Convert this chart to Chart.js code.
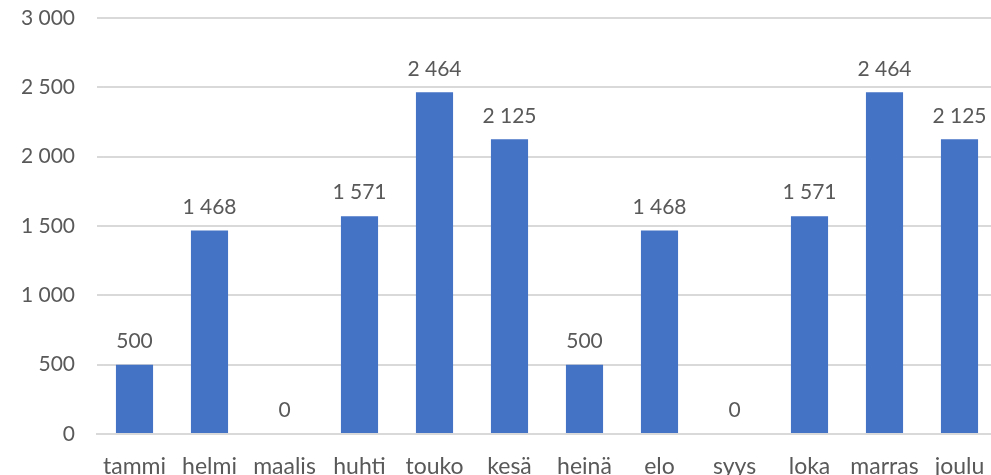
<!DOCTYPE html>
<html>
<head>
<meta charset="utf-8">
<script src="https://cdn.jsdelivr.net/npm/chart.js@4"></script>
<style>
  html, body { margin: 0; padding: 0; background: #fff; overflow: hidden; }
  #wrap { width: 997px; height: 475px; }
</style>
</head>
<body>
<div id="wrap"><canvas id="chart"></canvas></div>
<script>
const months = ["tammi", "helmi", "maalis", "huhti", "touko", "kesä", "heinä", "elo", "syys", "loka", "marras", "joulu"];
const values = [500, 1468, 0, 1571, 2464, 2125, 500, 1468, 0, 1571, 2464, 2125];
const yTicks = [0, 500, 1000, 1500, 2000, 2500, 3000];

const textColor = "#595959";
const fontFamily = "Lato, 'Open Sans', sans-serif";

// thousands with a space, like the Finnish Excel chart
const fmt = (v) => String(v).replace(/\B(?=(\d{3})+(?!\d))/g, " ");

const valueLabels = {
  id: "valueLabels",
  afterDatasetsDraw(chart) {
    const ctx = chart.ctx;
    const meta = chart.getDatasetMeta(0);
    ctx.save();
    ctx.font = "21px " + fontFamily;
    ctx.fillStyle = textColor;
    ctx.textAlign = "center";
    ctx.textBaseline = "bottom";
    meta.data.forEach((bar, i) => {
      ctx.fillText(fmt(values[i]), bar.x, bar.y - 13);
    });
    ctx.restore();
  }
};

new Chart(document.getElementById("chart"), {
  type: "bar",
  data: {
    labels: months,
    datasets: [{
      data: values,
      backgroundColor: "#4472C4",
      barPercentage: 0.5,
      categoryPercentage: 0.99
    }]
  },
  options: {
    responsive: true,
    maintainAspectRatio: false,
    animation: false,
    layout: { padding: { top: 18, left: 0, right: 0, bottom: 0 } },
    plugins: { legend: { display: false }, tooltip: { enabled: false } },
    scales: {
      x: {
        grid: { display: false },
        border: { color: "#d9d9d9", width: 2 },
        ticks: { color: textColor, font: { size: 23, family: fontFamily }, padding: 11, maxRotation: 0, autoSkip: false },
        afterFit(scale) { scale.height = 41; }
      },
      y: {
        min: 0,
        max: 3000,
        afterBuildTicks(scale) { scale.ticks = yTicks.map(v => ({ value: v })); },
        grid: { color: "#d9d9d9", lineWidth: 2, drawTicks: false },
        border: { display: false },
        ticks: { color: textColor, font: { size: 21, family: fontFamily }, padding: 22, callback: (v) => fmt(v) },
        afterFit(scale) {
          scale.width = 97;
          scale.paddingTop = 0;
          scale.paddingBottom = 0;
        }
      }
    }
  },
  plugins: [valueLabels]
});
</script>
</body>
</html>
